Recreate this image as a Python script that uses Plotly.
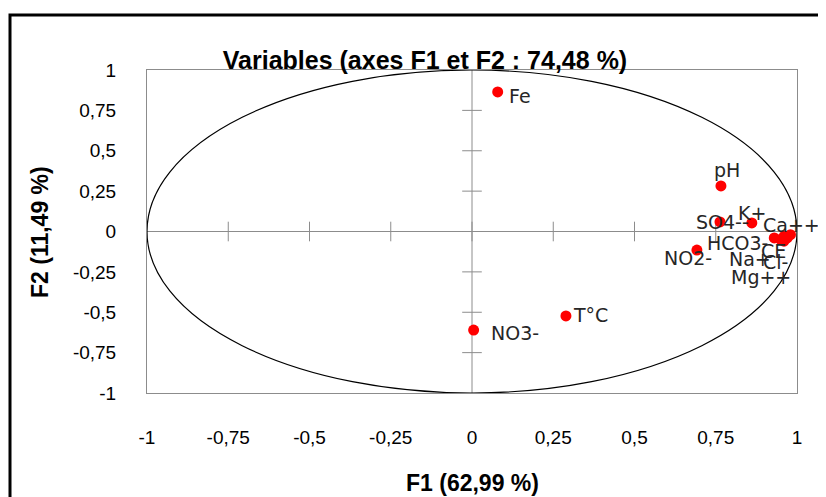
import plotly.graph_objects as go

# Data (correlation circle, F1 x F2)
variables = ["Fe", "pH", "SO4--", "K+", "NO2-", "T°C", "NO3-",
             "Ca++", "CE", "Cl-", "Na+", "HCO3-", "Mg++"]
f1 = [0.079, 0.766, 0.763, 0.861, 0.692, 0.289, 0.005,
      0.98, 0.97, 0.96, 0.95, 0.93, 0.96]
f2 = [0.864, 0.282, 0.059, 0.053, -0.115, -0.523, -0.610,
      -0.02, -0.04, -0.03, -0.05, -0.04, -0.06]
tick_vals = [-1, -0.75, -0.5, -0.25, 0, 0.25, 0.5, 0.75, 1]
tick_text = ["-1", "-0,75", "-0,5", "-0,25", "0", "0,25", "0,5", "0,75", "1"]

# label pixel offsets (style only)
label_dx = [22, 6, 3, 0, -9, 25, 41, 1, -14, -9, -31, -37, -23]
label_dy = [-4, 16, 0, 10, -8, 1, -3, 10, -13, -26, -19, -5, -36]

OFF = 8  # default page body margin
W, H = 826 - OFF, 497 - OFF
L, R, T, B = 147 - OFF, 29, 70 - OFF, 104
pw, ph = W - L - R, H - T - B


def px_x(px):
    return (px - OFF - L) / pw


def px_y(py):
    return (H - B - (py - OFF)) / ph


fig = go.Figure()

gray = "#8c8c8c"
# zero axes tick marks
nz = [v for v in tick_vals if v not in (-1, 1)]
fig.add_trace(go.Scatter(x=nz, y=[0] * len(nz), mode="markers",
                         marker=dict(symbol="line-ns", size=14, line=dict(color=gray, width=1)),
                         hoverinfo="skip", showlegend=False))
fig.add_trace(go.Scatter(x=[0] * len(nz), y=nz, mode="markers",
                         marker=dict(symbol="line-ew", size=14, line=dict(color=gray, width=1)),
                         hoverinfo="skip", showlegend=False))

fig.add_trace(go.Scatter(x=f1, y=f2, mode="markers",
                         marker=dict(color="#ff0000", size=11),
                         showlegend=False))

label_font = dict(family="DejaVu Sans", size=19, color="#262626")
for v, x, y, dx, dy in zip(variables, f1, f2, label_dx, label_dy):
    fig.add_annotation(x=x, y=y, xref="x", yref="y", text=v, showarrow=False,
                       xshift=dx, yshift=dy, font=label_font,
                       xanchor="center", yanchor="middle")

# unit circle
fig.add_shape(type="circle", xref="x", yref="y", x0=-1, y0=-1, x1=1, y1=1,
              line=dict(color="#000000", width=1.2), layer="above")
# zero lines
fig.add_shape(type="line", xref="x", yref="y", x0=-1, x1=1, y0=0, y1=0,
              line=dict(color=gray, width=1), layer="below")
fig.add_shape(type="line", xref="x", yref="y", x0=0, x1=0, y0=-1, y1=1,
              line=dict(color=gray, width=1), layer="below")

# outer thick frame of the chart
fig.add_shape(type="rect", xref="paper", yref="paper",
              x0=px_x(10), x1=px_x(845), y0=px_y(520), y1=px_y(15),
              line=dict(color="#000000", width=3), layer="below")

tick_font = dict(family="Liberation Sans", size=19, color="#000000")
fig.update_xaxes(range=[-1, 1], tickvals=tick_vals, ticktext=tick_text,
                 showgrid=False, zeroline=False, showline=True, linecolor=gray,
                 linewidth=1, mirror=True, ticks="", tickfont=tick_font,
                 ticklabelstandoff=27, automargin=False)
fig.update_yaxes(range=[-1, 1], tickvals=tick_vals, ticktext=tick_text,
                 showgrid=False, zeroline=False, showline=True, linecolor=gray,
                 linewidth=1, mirror=True, ticks="", tickfont=tick_font,
                 ticklabelstandoff=26, automargin=False)

fig.add_annotation(text="<b>F1 (62,99 %)</b>", xref="paper", yref="paper",
                   x=px_x(472), y=px_y(483),
                   showarrow=False, xanchor="center", yanchor="middle",
                   font=dict(family="Liberation Sans", size=23, color="#000000"))
fig.add_annotation(text="<b>F2 (11,49 %)</b>", xref="paper", yref="paper",
                   x=px_x(40), y=px_y(232), textangle=-90,
                   showarrow=False, xanchor="center", yanchor="middle",
                   font=dict(family="Liberation Sans", size=23, color="#000000"))

fig.update_layout(
    width=W, height=H,
    margin=dict(l=L, r=R, t=T, b=B, autoexpand=False),
    paper_bgcolor="white", plot_bgcolor="white",
    title=dict(text="<b>Variables (axes F1 et F2 : 74,48 %)</b>",
               x=(425 - OFF) / W, xanchor="center", y=1 - (60 - OFF) / H, yanchor="middle",
               xref="container", yref="container",
               font=dict(family="Liberation Sans", size=25, color="#000000")),
)

fig.write_html("out.html")
